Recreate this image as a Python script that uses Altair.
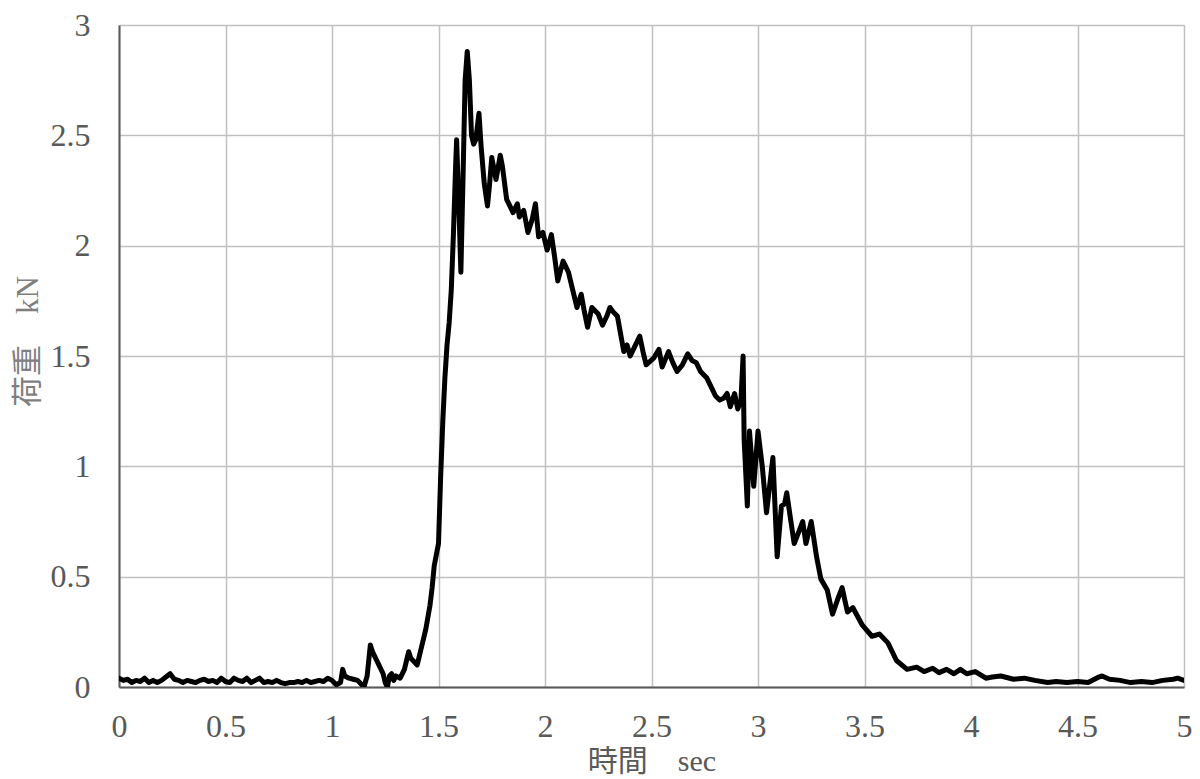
import altair as alt
import pandas as pd

# time (sec) and load (kN)
t_base = [0.00, 0.02, 0.04, 0.06, 0.08, 0.10, 0.12, 0.14, 0.16, 0.18, 0.20, 0.22, 0.24, 0.26, 0.28,
          0.30, 0.32, 0.34, 0.36, 0.38, 0.40, 0.42, 0.44, 0.46, 0.48, 0.50, 0.52, 0.54, 0.56, 0.58,
          0.60, 0.62, 0.64, 0.66, 0.68, 0.70, 0.72, 0.74, 0.76, 0.78, 0.80, 0.82, 0.84, 0.86, 0.88,
          0.90, 0.92, 0.94, 0.96, 0.98, 1.00, 1.02, 1.04]
v_base = [0.04, 0.03, 0.035, 0.02, 0.03, 0.025, 0.04, 0.02, 0.03, 0.02, 0.03, 0.045, 0.06, 0.035, 0.03,
          0.02, 0.03, 0.025, 0.02, 0.03, 0.035, 0.025, 0.03, 0.02, 0.04, 0.025, 0.02, 0.04, 0.03, 0.025,
          0.04, 0.02, 0.03, 0.04, 0.02, 0.025, 0.02, 0.03, 0.02, 0.015, 0.02, 0.02, 0.025, 0.02, 0.03,
          0.02, 0.025, 0.03, 0.025, 0.04, 0.03, 0.01, 0.02]

t_rise = [1.05, 1.06, 1.08, 1.10, 1.12, 1.14, 1.15, 1.165, 1.18, 1.19, 1.20, 1.21, 1.22, 1.24, 1.25,
          1.26, 1.27, 1.28, 1.29, 1.30, 1.32, 1.34, 1.36, 1.37, 1.38, 1.40, 1.41, 1.42, 1.44, 1.46,
          1.47, 1.48, 1.49, 1.50, 1.51, 1.52, 1.53, 1.54, 1.55, 1.56, 1.57, 1.58]
v_rise = [0.08, 0.05, 0.04, 0.035, 0.03, 0.01, 0.0, 0.05, 0.19, 0.16, 0.14, 0.12, 0.10, 0.06, 0.02,
          0.0, 0.05, 0.06, 0.03, 0.05, 0.04, 0.08, 0.16, 0.13, 0.12, 0.10, 0.14, 0.18, 0.26, 0.37,
          0.45, 0.55, 0.60, 0.65, 0.95, 1.20, 1.40, 1.55, 1.65, 1.80, 2.05, 2.35]

t_peak = [1.585, 1.595, 1.605, 1.615, 1.625, 1.635, 1.645, 1.655, 1.665, 1.675, 1.69, 1.70, 1.715,
          1.73, 1.74, 1.75, 1.77, 1.79, 1.80, 1.82, 1.835, 1.85, 1.87, 1.88, 1.90, 1.92, 1.94, 1.955,
          1.97, 1.99, 2.01, 2.03, 2.045, 2.06, 2.085, 2.11, 2.13, 2.15, 2.17, 2.185, 2.20, 2.22, 2.25,
          2.27, 2.29, 2.305, 2.32, 2.34, 2.37, 2.385, 2.40, 2.42, 2.445, 2.46, 2.475, 2.51, 2.535,
          2.55, 2.58, 2.60, 2.62, 2.645, 2.67, 2.69, 2.71, 2.73, 2.76, 2.78, 2.80, 2.82, 2.84, 2.855,
          2.87, 2.89, 2.905, 2.92]
v_peak = [2.48, 2.20, 1.88, 2.30, 2.75, 2.88, 2.75, 2.50, 2.46, 2.48, 2.60, 2.45, 2.28,
          2.18, 2.28, 2.40, 2.30, 2.41, 2.36, 2.21, 2.18, 2.15, 2.19, 2.13, 2.16, 2.06, 2.12, 2.19,
          2.04, 2.06, 1.98, 2.05, 1.95, 1.84, 1.93, 1.88, 1.80, 1.72, 1.78, 1.70, 1.63, 1.72, 1.69,
          1.64, 1.68, 1.72, 1.70, 1.68, 1.52, 1.55, 1.50, 1.54, 1.59, 1.52, 1.46, 1.49, 1.53,
          1.45, 1.52, 1.47, 1.43, 1.46, 1.51, 1.48, 1.47, 1.43, 1.40, 1.36, 1.32, 1.30, 1.31, 1.33,
          1.27, 1.33, 1.26, 1.30]

t_fall = [2.93, 2.935, 2.95, 2.96, 2.98, 3.00, 3.02, 3.04, 3.07, 3.09, 3.11, 3.125, 3.135, 3.15,
          3.17, 3.19, 3.21, 3.225, 3.25, 3.275, 3.295, 3.325, 3.35, 3.375, 3.395, 3.42, 3.445, 3.49,
          3.535, 3.57, 3.61, 3.65, 3.70, 3.745, 3.78, 3.82, 3.85, 3.885, 3.92, 3.95, 3.98, 4.02,
          4.07, 4.10, 4.14, 4.20, 4.25, 4.30, 4.36, 4.40, 4.45, 4.50, 4.55, 4.60, 4.615, 4.65, 4.70,
          4.75, 4.80, 4.85, 4.90, 4.95, 4.97, 5.00]
v_fall = [1.50, 1.12, 0.82, 1.16, 0.91, 1.16, 1.00, 0.79, 1.04, 0.59, 0.82, 0.83, 0.88, 0.78,
          0.65, 0.70, 0.75, 0.65, 0.75, 0.59, 0.49, 0.44, 0.33, 0.40, 0.45, 0.34, 0.36, 0.28,
          0.23, 0.24, 0.20, 0.12, 0.08, 0.09, 0.07, 0.085, 0.065, 0.08, 0.06, 0.08, 0.06, 0.07,
          0.04, 0.045, 0.05, 0.035, 0.04, 0.03, 0.02, 0.025, 0.02, 0.025, 0.02, 0.045, 0.05, 0.035, 0.03,
          0.02, 0.025, 0.02, 0.03, 0.035, 0.04, 0.03]

time = t_base + t_rise + t_peak + t_fall
load = v_base + v_rise + v_peak + v_fall
df = pd.DataFrame({"time": time, "load": load, "order": list(range(len(time)))})

x_ticks = [0, 0.5, 1, 1.5, 2, 2.5, 3, 3.5, 4, 4.5, 5]
y_ticks = [0, 0.5, 1, 1.5, 2, 2.5, 3]

FONT = "Liberation Serif, Times New Roman, Noto Sans CJK JP, serif"

chart = alt.Chart(df).mark_line(
    color="black", strokeWidth=5, strokeJoin="round", strokeCap="round", clip=True
).encode(
    x=alt.X("time:Q",
            scale=alt.Scale(domain=[0, 5], nice=False, zero=False),
            axis=alt.Axis(values=x_ticks, title="時間　sec", format="~g",
                          ticks=False, labelPadding=24, labelFontSize=32,
                          labelFlush=False, labelOverlap=False,
                          labelColor="#595959", labelFont=FONT,
                          titleFont=FONT, titleFontSize=30, titleFontWeight="normal",
                          titleColor="#595959", titleBaseline="middle", titleY=74,
                          gridColor="#c0c0c0", gridWidth=1.5,
                          domainColor="#595959", domainWidth=2)),
    y=alt.Y("load:Q",
            scale=alt.Scale(domain=[0, 3], nice=False),
            axis=alt.Axis(values=y_ticks, title="荷重　kN", format="~g",
                          ticks=False, labelPadding=29, labelFontSize=32,
                          labelFlush=False, labelOverlap=False,
                          labelColor="#595959", labelFont=FONT,
                          titleFont=FONT, titleFontSize=31, titleFontWeight="normal",
                          titleColor="#7f7f7f", titleX=-91, titleY=316,
                          titleBaseline="middle",
                          gridColor="#c0c0c0", gridWidth=1.5,
                          domainColor="#595959", domainWidth=2)),
    order="order:Q",
).properties(
    width=1065, height=662,
    autosize=alt.AutoSizeParams(type="none"),
    padding={"left": 111, "top": 17, "right": 8, "bottom": 92},
).configure_view(
    stroke="#595959", strokeWidth=1.5
).configure(background="white")

chart.save("out.html", embed_options={"renderer": "svg", "actions": False})
